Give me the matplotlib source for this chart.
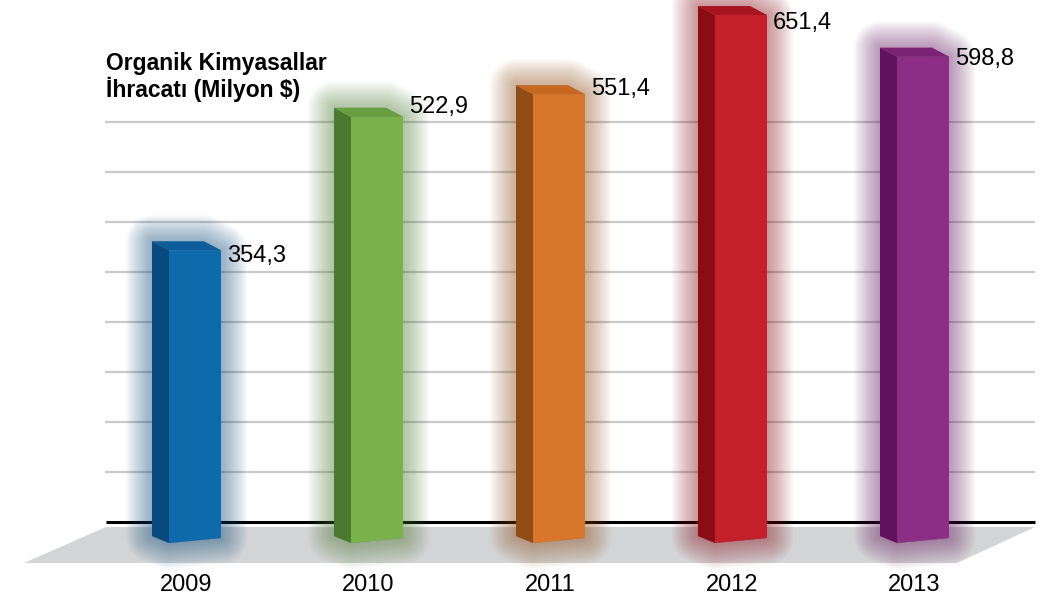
import matplotlib
matplotlib.use("Agg")
import matplotlib.pyplot as plt
from matplotlib.patches import Polygon
import numpy as np

plt.rcParams['font.family'] = ['Liberation Sans', 'DejaVu Sans']

# ---- data ----
years = ["2009", "2010", "2011", "2012", "2013"]
values = [354.3, 522.9, 551.4, 651.4, 598.8]
value_labels = ["354,3", "522,9", "551,4", "651,4", "598,8"]
title_line1 = "Organik Kimyasallar"
title_line2 = "İhracatı (Milyon $)"

front_colors = ["#0f6aab", "#79b14b", "#d8762b", "#c42029", "#8c2e86"]
side_colors = ["#084a7d", "#4a7a2f", "#8f4c14", "#8a0c14", "#62115d"]
top_colors = ["#0c5d99", "#68a040", "#c66820", "#a8151e", "#7a2274"]
# per-label vertical nudge (px, downward) as in reference layout
label_nudge_px = [15, -1, 4, 17, 11]

# ---- geometry (pixels -> data units) ----
W, H = 1052, 604
PX_PER_X = 182.0          # pixels per category step
X0_PX = 195.0             # pixel x of first bar front centre
PX_PER_V = 0.792          # pixels per value unit
ZERO_PX = 522.0           # pixel y (from top) of value 0

def ux(p):
    return p / PX_PER_X

def uy(p):
    return p / PX_PER_V

def vy(py_from_top):
    return (ZERO_PX - py_from_top) / PX_PER_V

def xx(px):
    return (px - X0_PX) / PX_PER_X

fig = plt.figure(figsize=(W / 100, H / 100), dpi=100)
ax = fig.add_axes([0, 0, 1, 1])
ax.set_xlim(xx(0), xx(W))
ax.set_ylim(vy(H), vy(0))
ax.axis('off')

# floor
floor = Polygon([(xx(106), vy(527)), (xx(1035), vy(527)),
                 (xx(957), vy(563)), (xx(24), vy(563))],
                closed=True, facecolor="#d3d4d5", edgecolor="none", zorder=1)
ax.add_patch(floor)

# gridlines
grid_step = uy(50)
for k in range(1, 9):
    ax.hlines(k * grid_step, xx(105), xx(1035), color="#c9c9c9", lw=1.6, zorder=2)
ax.hlines(0, xx(106), xx(1035), color="black", lw=2.2, zorder=3)

half_w = ux(26)
dx = ux(17)
dy = uy(9)
yb_l = vy(543)
yb_r = vy(538)
yb_s = vy(536)

for i, (v, fc, sc, tc) in enumerate(zip(values, front_colors, side_colors, top_colors)):
    xl, xr = i - half_w, i + half_w
    vf = v - dy
    outline = [(xl - dx, yb_s), (xl, yb_l), (xr, yb_r), (xr, vf), (xr - dx, v), (xl - dx, v)]
    # glow
    n = 14
    for k in range(n, 0, -1):
        e = 26.0 * k / n
        ax.add_patch(Polygon(outline, closed=True, facecolor=sc, edgecolor=sc,
                             lw=2 * e * 0.72, joinstyle='round', alpha=0.035, zorder=4))
    ax.add_patch(Polygon([(xl, yb_l), (xr, yb_r), (xr, vf), (xl, vf)], closed=True,
                         facecolor=fc, edgecolor="none", zorder=6))
    ax.add_patch(Polygon([(xl - dx, yb_s), (xl, yb_l), (xl, vf), (xl - dx, v)], closed=True,
                         facecolor=sc, edgecolor="none", zorder=6))
    ax.add_patch(Polygon([(xl, vf), (xr, vf), (xr - dx, v), (xl - dx, v)], closed=True,
                         facecolor=tc, edgecolor="none", zorder=6))
    ax.text(xr + ux(6), v - uy(label_nudge_px[i]), value_labels[i], fontsize=17,
            ha='left', va='center', color="black", zorder=7)
    ax.text(i - ux(9), vy(585), years[i], fontsize=17, ha='center', va='center',
            color="black", zorder=7)

fig.text(106 / W, 1 - 70 / H, title_line1, fontsize=16.5, fontweight='bold',
         ha='left', va='baseline')
fig.text(106 / W, 1 - 97 / H, title_line2, fontsize=16.5, fontweight='bold',
         ha='left', va='baseline')

fig.savefig("out.png", dpi=100, facecolor="white")
